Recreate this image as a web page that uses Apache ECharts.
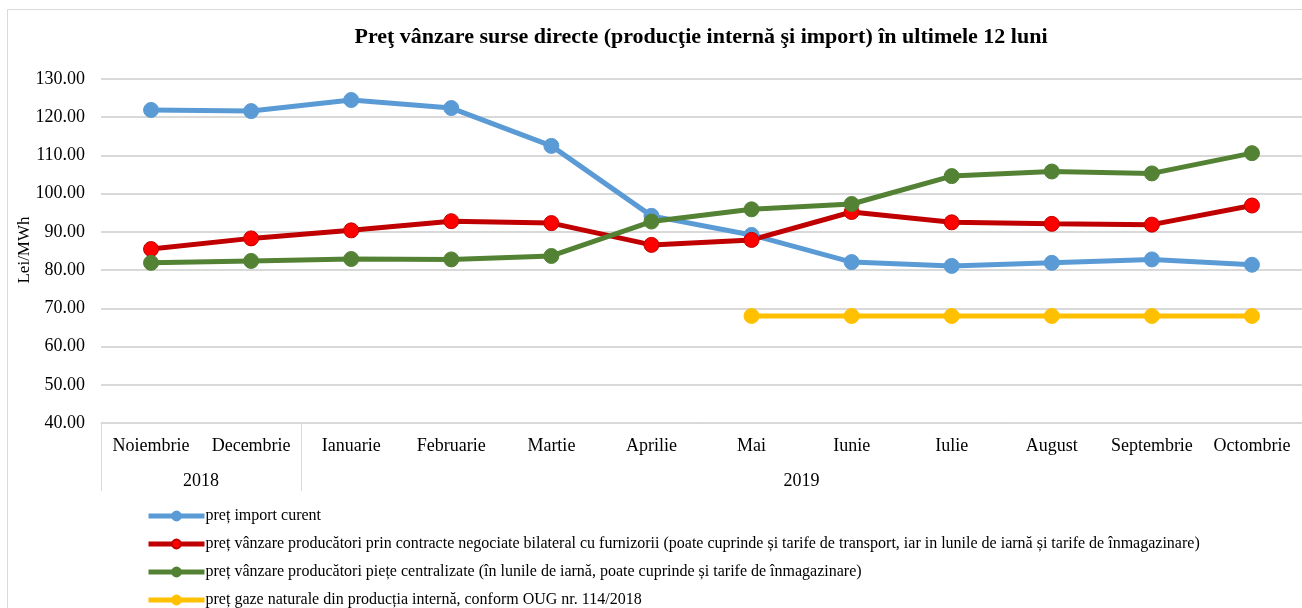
<!DOCTYPE html>
<html>
<head>
<meta charset="utf-8">
<script src="https://cdn.jsdelivr.net/npm/echarts@6/dist/echarts.min.js"></script>
<style>
  html, body { margin: 0; padding: 0; background: #fff; }
  #chart { width: 1302px; height: 608px; }
</style>
</head>
<body>
<div id="chart"></div>
<script>
// luni si ani
var luni = ['Noiembrie', 'Decembrie', 'Ianuarie', 'Februarie', 'Martie', 'Aprilie',
            'Mai', 'Iunie', 'Iulie', 'August', 'Septembrie', 'Octombrie'];
var ani = ['2018', '2019'];
var unitate = 'Lei/MWh';

var numeSerii = [
    'preț import curent',
    'preț vânzare producători prin contracte negociate bilateral cu furnizorii (poate cuprinde și tarife de transport, iar in lunile de iarnă și tarife de înmagazinare)',
    'preț vânzare producători piețe centralizate (în lunile de iarnă, poate cuprinde și tarife de înmagazinare)',
    'preț gaze naturale din producția internă, conform OUG nr. 114/2018'
];

var pretImport = [121.9, 121.6, 124.5, 122.4, 112.5, 94.2, 89.2, 82.1, 81.1, 81.9, 82.8, 81.4];
var pretBilateral = [85.5, 88.3, 90.4, 92.8, 92.3, 86.6, 87.9, 95.2, 92.5, 92.1, 91.9, 96.9];
var pretCentralizat = [81.9, 82.4, 82.9, 82.8, 83.7, 92.7, 95.9, 97.3, 104.6, 105.8, 105.3, 110.6];
var pretOUG = [null, null, null, null, null, null, 68, 68, 68, 68, 68, 68];

var font = '"Liberation Serif", "DejaVu Serif", serif';

function serie(nume, date, culoare, marker, bordura) {
    return {
        name: nume,
        type: 'line',
        data: date,
        xAxisIndex: 0,
        symbol: 'circle',
        symbolSize: 15,
        lineStyle: { color: culoare, width: 5 },
        itemStyle: { color: marker, borderColor: bordura, borderWidth: 1 },
        emphasis: { disabled: true }
    };
}

var myChart = echarts.init(document.getElementById('chart'));
var option = {
    animation: false,
    textStyle: { fontFamily: font },
    title: {
        text: 'Preţ vânzare surse directe (producţie internă şi import) în ultimele 12 luni',
        left: 696,
        textAlign: 'center',
        top: 21,
        textStyle: { fontFamily: font, fontSize: 22, fontWeight: 'bold', color: '#000' }
    },
    graphic: [{
        type: 'rect',
        shape: { x: 7.5, y: 9.5, width: 1400, height: 700 },
        style: { fill: 'none', stroke: '#d9d9d9', lineWidth: 1 },
        silent: true
    }, {
        // titlul axei verticale
        type: 'text',
        x: 25,
        y: 250,
        rotation: Math.PI / 2,
        style: {
            text: unitate,
            fill: '#000',
            font: '17px ' + font,
            align: 'center',
            verticalAlign: 'middle'
        },
        silent: true
    }],
    legend: {
        orient: 'vertical',
        left: 141,
        top: 503,
        height: 200,
        itemWidth: 56,
        itemHeight: 11,
        itemGap: 12,
        data: numeSerii,
        lineStyle: { width: 5 },
        textStyle: { fontFamily: font, fontSize: 16, color: '#000', padding: [0, 0, 0, -4] },
        selectedMode: false
    },
    grid: { left: 101, right: -5, top: 79, bottom: 185, containLabel: false },
    xAxis: [{
        type: 'category',
        data: luni,
        boundaryGap: true,
        axisLine: { show: true, lineStyle: { color: '#d9d9d9', width: 1 } },
        axisTick: { show: false },
        axisLabel: { color: '#000', fontSize: 18, margin: 14, interval: 0, fontFamily: font },
        splitLine: { show: false }
    }, {
        type: 'value',
        position: 'bottom',
        min: 0,
        max: 12,
        interval: 1,
        axisLine: { show: false },
        axisTick: {
            show: true,
            customValues: [0, 2],
            length: 68,
            inside: false,
            lineStyle: { color: '#d9d9d9', width: 1 }
        },
        axisLabel: {
            show: true,
            customValues: [1, 7],
            margin: 49,
            color: '#000',
            fontSize: 18,
            fontFamily: font,
            formatter: function (v) {
                if (v === 1) return ani[0];
                if (v === 7) return ani[1];
                return '';
            }
        },
        splitLine: { show: false }
    }],
    yAxis: {
        type: 'value',
        min: 40,
        max: 130,
        interval: 10,
        axisLine: { show: false },
        axisTick: { show: false },
        axisLabel: {
            color: '#000',
            fontSize: 18,
            margin: 16,
            fontFamily: font,
            formatter: function (v) { return v.toFixed(2); }
        },
        splitLine: { lineStyle: { color: '#d9d9d9', width: 2 } }
    },
    series: [
        serie(numeSerii[0], pretImport, '#5B9BD5', '#5B9BD5', '#5B9BD5'),
        serie(numeSerii[1], pretBilateral, '#C00000', '#FF0000', '#C00000'),
        serie(numeSerii[2], pretCentralizat, '#548235', '#548235', '#548235'),
        serie(numeSerii[3], pretOUG, '#FFC000', '#FFC000', '#FFC000')
    ]
};
myChart.setOption(option);
window.addEventListener('resize', function () {
    myChart.resize();
});
</script>
</body>
</html>
